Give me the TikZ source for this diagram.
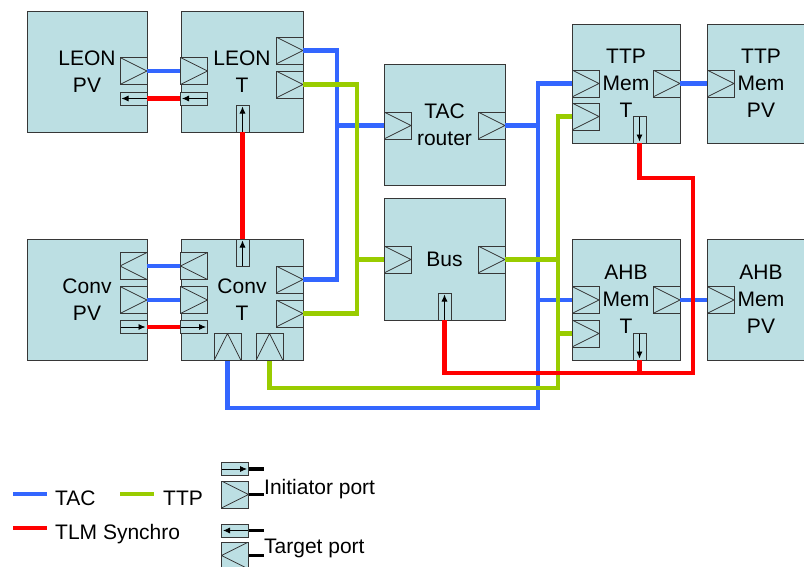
\documentclass[tikz,border=0pt]{standalone}
\usepackage{fontspec}
\setmainfont{Liberation Sans}
\usetikzlibrary{arrows.meta}
\definecolor{boxfill}{RGB}{188,223,227}
\definecolor{tacblue}{RGB}{51,102,255}
\definecolor{ttpgreen}{RGB}{153,204,0}
\definecolor{syncred}{RGB}{255,0,0}
\definecolor{edgec}{RGB}{55,55,55}
\begin{document}
\begin{tikzpicture}[x=1pt,y=-1pt,
 blk/.style={draw=edgec, line width=0.9pt, fill=boxfill, inner sep=0pt, align=center, font=\fontsize{21}{27}\selectfont},
 port/.style={draw=edgec, line width=0.8pt, fill=boxfill, inner sep=0pt, minimum width=27, minimum height=27},
 pR/.style={port, path picture={\draw[edgec,line width=0.7pt] (path picture bounding box.north west) -- (path picture bounding box.east) -- (path picture bounding box.south west);}},
 pL/.style={port, path picture={\draw[edgec,line width=0.7pt] (path picture bounding box.north east) -- (path picture bounding box.west) -- (path picture bounding box.south east);}},
 pU/.style={port, path picture={\draw[edgec,line width=0.7pt] (path picture bounding box.south west) -- (path picture bounding box.north) -- (path picture bounding box.south east);}},
 sH/.style={draw=edgec, line width=0.8pt, fill=boxfill, inner sep=0pt, minimum width=27, minimum height=13},
 sV/.style={draw=edgec, line width=0.8pt, fill=boxfill, inner sep=0pt, minimum width=13, minimum height=27},
 arr/.style={black, line width=0.8pt, -{Latex[length=7pt,width=6pt]}},
 sL/.style={sH, path picture={\draw[arr] (path picture bounding box.east) -- ([xshift=1.5pt]path picture bounding box.west);}},
 sR/.style={sH, path picture={\draw[arr] (path picture bounding box.west) -- ([xshift=-1.5pt]path picture bounding box.east);}},
 sU/.style={sV, path picture={\draw[arr] (path picture bounding box.south) -- ([yshift=-1.5pt]path picture bounding box.north);}},
 sD/.style={sV, path picture={\draw[arr] (path picture bounding box.north) -- ([yshift=1.5pt]path picture bounding box.south);}},
 tac/.style={tacblue, line width=4.5pt},
 ttp/.style={ttpgreen, line width=4.5pt},
 tlm/.style={syncred, line width=4.5pt},
 stub/.style={black, line width=3.5pt},
 lgtext/.style={font=\fontsize{21}{25}\selectfont, inner sep=0pt}
]
\clip (0,0) rectangle (804,566);
\fill[white] (0,0) rectangle (804,566);

% boxes
\node[blk, minimum width=120, minimum height=121] (leonpv) at (87,71.5) {LEON\\PV};
\node[blk, minimum width=122, minimum height=121] (leont) at (242,71.5) {LEON\\T};
\node[blk, minimum width=120, minimum height=121] (convpv) at (87,299.5) {Conv\\PV};
\node[blk, minimum width=122, minimum height=121] (convt) at (242,299.5) {Conv\\T};
\node[blk, minimum width=121, minimum height=121] (router) at (444.5,124.5) {TAC\\router};
\node[blk, minimum width=121, minimum height=122] (bus) at (444.5,259) {Bus};
\node[blk, minimum width=108, minimum height=119] (ttpt) at (626,83.5) {TTP\\Mem\\T};
\node[blk, minimum width=108, minimum height=119] (ttppv) at (761,83.5) {TTP\\Mem\\PV};
\node[blk, minimum width=108, minimum height=121] (ahbt) at (626,299.5) {AHB\\Mem\\T};
\node[blk, minimum width=108, minimum height=121] (ahbpv) at (761,299.5) {AHB\\Mem\\PV};

% ports
\node[pR] (lpvp) at (133.5,71) {};
\node[sL] (lpvs) at (133.5,98.5) {};
\node[pR] (ltpl) at (194,71) {};
\node[sL] (lts) at (194,98.5) {};
\node[pR] (ltr1) at (289.5,50.5) {};
\node[pR] (ltr2) at (289.5,84.5) {};
\node[sU] (ltb) at (242.5,118.5) {};

\node[pL] (cpvp1) at (133.5,266) {};
\node[pR] (cpvp2) at (133.5,300) {};
\node[sR] (cpvs) at (133.5,327) {};
\node[pL] (ctp1) at (194,266) {};
\node[pR] (ctp2) at (194,300) {};
\node[sR] (cts) at (194,327) {};
\node[sU] (ctt) at (242.5,252.5) {};
\node[pR] (ctr1) at (289.5,279.5) {};
\node[pR] (ctr2) at (289.5,313.5) {};
\node[pU] (ctb1) at (227.5,347) {};
\node[pU] (ctb2) at (269.5,347) {};

\node[pR] (rl) at (397.5,125.5) {};
\node[pR] (rr) at (491.5,125.5) {};
\node[pR] (bl) at (397.5,259.5) {};
\node[pR] (br) at (491.5,259.5) {};
\node[sU] (bs) at (444.5,306.5) {};

\node[pR] (ttl1) at (585.5,83.5) {};
\node[pR] (ttl2) at (585.5,116.5) {};
\node[pR] (ttr) at (666.5,83.5) {};
\node[sD] (tts) at (639.5,129.5) {};
\node[pR] (tpl) at (720.5,83.5) {};

\node[pR] (atl1) at (585.5,300) {};
\node[pR] (atl2) at (585.5,333.5) {};
\node[pR] (atr) at (666.5,300) {};
\node[sD] (ats) at (639.5,346.5) {};
\node[pR] (apl) at (720.5,300) {};

% routing coordinates
\coordinate (xb1) at (337,0);
\coordinate (xg1) at (357,0);
\coordinate (xb2) at (538,0);
\coordinate (xg2) at (558,0);
\coordinate (ybot) at (0,408);
\coordinate (ygbot) at (0,388);
\coordinate (yr1) at (0,178);
\coordinate (xr) at (693,0);
\coordinate (yr2) at (0,373);

% blue
\draw[tac] (lpvp.east) -- (ltpl.west);
\draw[tac] (cpvp1.east) -- (ctp1.west);
\draw[tac] (cpvp2.east) -- (ctp2.west);
\draw[tac] (ltr1.east) -| (ctr1.east -| xb1) -- (ctr1.east);
\draw[tac] (rl.west) -- (rl.west -| xb1);
\draw[tac] (ttl1.west) -| (xb2 |- ybot) -| (ctb1.south);
\draw[tac] (rr.east) -- (rr.east -| xb2);
\draw[tac] (atl1.west) -- (atl1.west -| xb2);
\draw[tac] (ttr.east) -- (tpl.west);
\draw[tac] (atr.east) -- (apl.west);

% green
\draw[ttp] (ltr2.east) -| (ctr2.east -| xg1) -- (ctr2.east);
\draw[ttp] (bl.west) -- (bl.west -| xg1);
\draw[ttp] (ttl2.west) -| (xg2 |- ygbot) -| (ctb2.south);
\draw[ttp] (br.east) -- (br.east -| xg2);
\draw[ttp] (atl2.west) -- (atl2.west -| xg2);

% red
\draw[tlm] (lpvs.east) -- (lts.west);
\draw[tlm] (ltb.south) -- (ctt.north);
\draw[tlm] (cpvs.east) -- (cts.west);
\draw[tlm] (tts.south) |- (xr |- yr1) -- (xr |- yr2) -| (bs.south);
\draw[tlm] (ats.south) -- (ats.south |- yr2);

% legend
\draw[tacblue, line width=4pt] (13,494) -- (47,494);
\node[lgtext, anchor=base west] (lgtac) at (55,505) {TAC};
\draw[ttpgreen, line width=4pt] (120,494) -- (154,494);
\node[lgtext, anchor=base west] (lgttp) at (163,505) {TTP};
\draw[syncred, line width=4pt] (13,528) -- (47,528);
\node[lgtext, anchor=base west] (lgtlm) at (55,539) {TLM Synchro};

\node[sR] (lgis) at (235,469) {};
\draw[stub] (lgis.east) -- ++(15,0);
\node[pR] (lgip) at (235,494.5) {};
\draw[stub] (lgip.east) -- ++(15,0);
\node[lgtext, anchor=base west] (lgini) at (264,494) {Initiator port};

\node[sL] (lgts) at (235,530.5) {};
\draw[stub] (lgts.east) -- ++(15,0);
\node[pL] (lgtp) at (235,555.5) {};
\draw[stub] (lgtp.east) -- ++(15,0);
\node[lgtext, anchor=base west] (lgtar) at (264,553) {Target port};
\end{tikzpicture}
\end{document}
